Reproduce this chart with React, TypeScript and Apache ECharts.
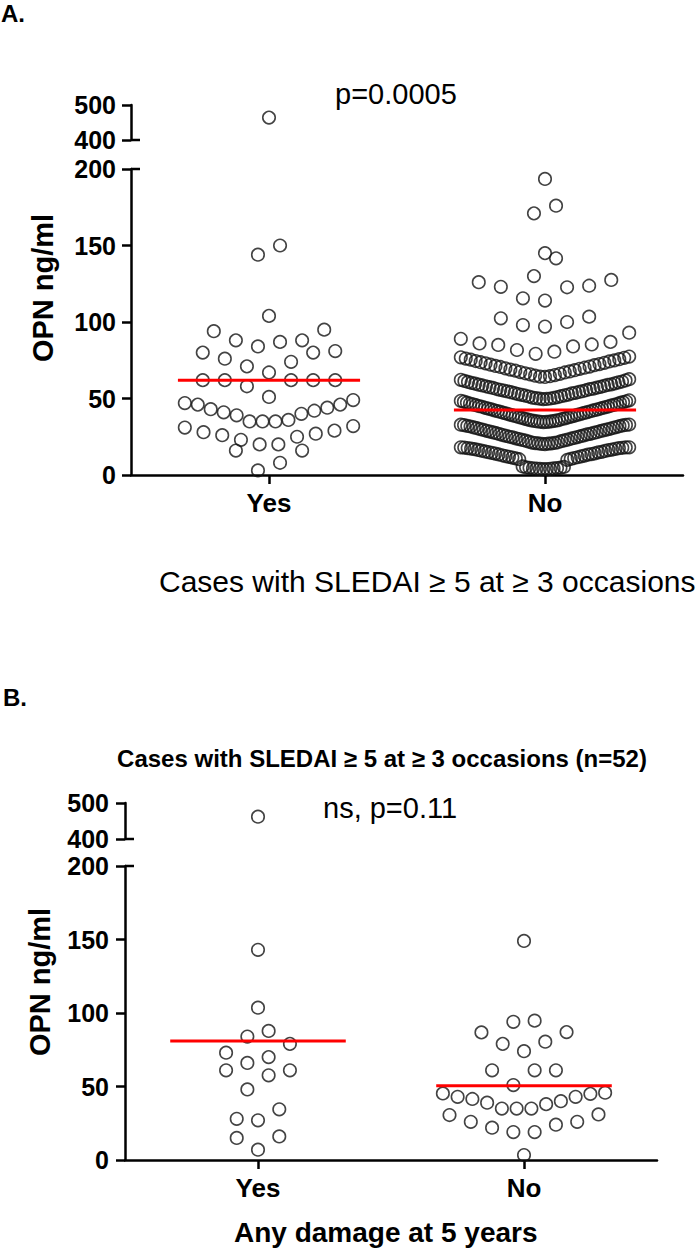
import React, { useEffect, useRef } from "react";
import * as echarts from "echarts";

// ---------- DATA ----------
const categories = ["Yes", "No"];

// Panel A: OPN (ng/ml), cases with SLEDAI >= 5 at >= 3 occasions
const opnA_yes = [
  464, 150, 144, 104, 95, 94, 88, 87, 84, 88, 81, 80, 80, 74, 71, 76, 67,
  62, 62, 62, 62, 62, 58, 51, 47, 46, 44, 41, 39, 36, 35, 35, 35, 40, 42,
  43, 46, 49, 32, 29, 27, 25, 20, 20, 23, 26, 28, 31, 16, 16, 3, 8,
];

const opnA_no = [
  // lowest band
  3.8, 3.9, 4.0, 4.0, 4.1, 4.3, 4.4, 4.5, 4.7, 4.8, 5.0, 5.3, 5.6,
  9.9, 10.3, 10.5, 10.8, 11.1, 11.4, 11.6, 11.9, 12.2, 12.4, 12.7, 12.9,
  13.3, 13.4, 13.7, 14.0, 14.2, 14.4, 14.8, 15.0, 15.1, 15.4, 15.7, 15.9,
  16.3, 16.4, 16.6, 16.9, 17.1, 17.2, 17.5, 17.6, 17.8, 17.9, 18.0, 18.1, 18.1,
  // 20-33
  20.2, 20.3, 20.5, 20.6, 20.7, 20.9, 21.0, 21.2, 21.4, 21.8, 22.1, 22.4,
  22.6, 22.9, 23.1, 23.5, 23.7, 24.0, 24.2, 24.6, 24.8, 25.0, 25.4, 25.6,
  25.9, 26.1, 26.5, 26.7, 26.9, 27.3, 27.5, 27.8, 28.0, 28.4, 28.6, 28.9,
  29.1, 29.5, 29.7, 30.0, 30.2, 30.6, 30.8, 31.1, 31.3, 31.7, 31.9, 32.1,
  32.4, 32.6, 32.7, 32.9, 33.0,
  // 35-49
  34.6, 34.7, 34.8, 34.9, 35.0, 35.2, 35.3, 35.5, 35.7, 35.9, 36.2, 36.6,
  36.7, 37.0, 37.4, 37.6, 37.8, 38.2, 38.4, 38.7, 38.9, 39.3, 39.5, 39.8,
  40.1, 40.4, 40.6, 40.9, 41.2, 41.5, 41.7, 42.0, 42.3, 42.5, 42.9, 43.1,
  43.4, 43.7, 43.9, 44.2, 44.6, 44.7, 45.0, 45.4, 45.6, 45.8, 46.2, 46.4,
  46.7, 47.1, 47.3, 47.6, 47.9, 48.2, 48.5, 48.8,
  // 50-62
  49.6, 49.7, 49.9, 50.0, 50.2, 50.4, 50.6, 50.9, 51.3, 51.5, 51.8, 52.1,
  52.4, 52.6, 52.9, 53.3, 53.5, 53.7, 54.1, 54.3, 54.6, 54.8, 55.2, 55.4,
  55.7, 56.1, 56.2, 56.5, 56.9, 57.1, 57.4, 57.6, 58.0, 58.2, 58.5, 58.9,
  59.0, 59.3, 59.7, 59.9, 60.2, 60.6, 60.8, 61.1, 61.5, 61.8, 62.2, 62.6,
  // 64-77
  64.1, 64.3, 64.6, 64.9, 65.3, 65.8, 66.1, 66.5, 67.0, 67.3, 67.7, 68.2,
  68.5, 68.9, 69.4, 69.7, 70.1, 70.6, 70.9, 71.3, 71.8, 72.1, 72.5, 73.0,
  73.3, 73.7, 74.2, 74.5, 74.9, 75.4, 75.7, 76.1, 76.6, 76.9, 77.4,
  // sparse upper values
  79.2, 80.6, 81.7, 84, 85, 85.3, 86, 87, 89, 93,
  97, 98, 100, 102.4, 103.5,
  114, 115.5, 122.7, 123, 123.7, 126, 127.5,
  130, 141.6, 145, 171, 176, 193.5,
];

// Panel B: cases with SLEDAI >= 5 at >= 3 occasions (n=52), any damage at 5 years
const opnB_yes = [
  462, 143, 103.6, 87.8, 84, 79, 70, 73, 66, 61, 61, 57.6, 48, 34.5, 28, 27,
  16, 15, 7,
];
const opnB_no = [
  149, 94.8, 94, 87, 86.8, 80.5, 79, 74, 61, 61, 61, 51, 45.3, 43, 41.5, 39,
  35, 35, 35, 38, 40, 43, 45, 45.8, 31, 26, 24, 19, 19, 22, 26, 30.6, 3.4,
];

const mediansA = [62, 42.5];
const mediansB = [81, 50.5];

const lowerAxis = { min: 0, max: 200, interval: 50 };
const upperAxis = { min: 400, max: 500, interval: 100 };

const pTextA = "p=0.0005";
const pTextB = "ns, p=0.11";
const xTitleA = "Cases with SLEDAI \u2265 5 at \u2265 3 occasions";
const titleB = "Cases with SLEDAI \u2265 5 at \u2265 3 occasions (n=52)";
const xTitleB = "Any damage at 5 years";
const yTitle = "OPN ng/ml";

// ---------- LAYOUT ----------
const FONT = "'Liberation Sans', Arial, Helvetica, sans-serif";
const LA = { left: 131, width: 552, lowTop: 169, lowH: 306, upTop: 105, upH: 35 };
const LB = { left: 125, width: 532, lowTop: 866, lowH: 294, upTop: 803, upH: 36 };
const X_MAX = 4; // categories at 1 and 3
const ROW_PX = 22;
const STEP = 0.16;
const MAX_SPAN = 1.22;
const MED_HALF = 0.66;

// GraphPad-like binned column scatter: rows of ROW_PX height, lowest values in
// the middle, alternating outward.
function swarm(values: number[], center: number, rowH: number): number[][] {
  const s = [...values].sort((a, b) => a - b);
  const out: number[][] = [];
  let i = 0;
  while (i < s.length) {
    const start = s[i];
    const row: number[] = [];
    while (i < s.length && s[i] < start + rowH) {
      row.push(s[i]);
      i++;
    }
    const n = row.length;
    const st = n > 1 ? Math.min(STEP, MAX_SPAN / (n - 1)) : 0;
    row.forEach((v, k) => {
      let slot: number;
      if (n % 2 === 1) {
        slot = k === 0 ? 0 : k % 2 === 1 ? -Math.ceil(k / 2) : Math.ceil(k / 2);
      } else {
        const m = Math.floor(k / 2) + 0.5;
        slot = k % 2 === 0 ? -m : m;
      }
      out.push([center + slot * st, v]);
    });
  }
  return out;
}

function buildPanel(
  L: typeof LA,
  groups: number[][],
  medians: number[],
  gi0: number,
  xi0: number,
  yi0: number,
  labelMarginY: number
) {
  const rowH = (ROW_PX * (lowerAxis.max - lowerAxis.min)) / L.lowH;
  const axisLineStyle = { color: "#000", width: 2.5 };
  const tickLabel = {
    color: "#000",
    fontFamily: FONT,
    fontWeight: "bold" as const,
    fontSize: 25,
  };
  const grids = [
    { left: L.left, top: L.lowTop, width: L.width, height: L.lowH, outerBoundsMode: "none" },
    { left: L.left, top: L.upTop, width: L.width, height: L.upH, outerBoundsMode: "none" },
  ];
  const xAxes = [
    {
      gridIndex: gi0,
      type: "category",
      data: categories,
      boundaryGap: true,
      axisLine: { show: true, onZero: false, lineStyle: axisLineStyle },
      axisTick: { show: true, alignWithLabel: true, length: 9, lineStyle: { color: "#000", width: 2.5 } },
      axisLabel: { ...tickLabel, fontSize: 26, margin: 15 },
      splitLine: { show: false },
    },
    { gridIndex: gi0, type: "value", min: 0, max: X_MAX, show: false },
    { gridIndex: gi0 + 1, type: "value", min: 0, max: X_MAX, show: false },
  ];
  const yAxes = [
    {
      gridIndex: gi0,
      type: "value",
      ...lowerAxis,
      axisLine: { show: true, onZero: false, lineStyle: axisLineStyle },
      axisTick: { show: true, length: 9, lineStyle: { color: "#000", width: 2.5 } },
      axisLabel: { ...tickLabel, margin: labelMarginY },
      splitLine: { show: false },
    },
    {
      gridIndex: gi0 + 1,
      type: "value",
      ...upperAxis,
      axisLine: { show: true, onZero: false, lineStyle: axisLineStyle },
      axisTick: { show: true, length: 9, lineStyle: { color: "#000", width: 2.5 } },
      axisLabel: { ...tickLabel, margin: labelMarginY },
      splitLine: { show: false },
    },
  ];
  const series: any[] = [];
  groups.forEach((vals, g) => {
    const c = 1 + 2 * g;
    const pts = swarm(vals, c, rowH);
    const sym = {
      type: "scatter",
      symbol: "circle",
      symbolSize: 12.5,
      itemStyle: { color: "rgba(255,255,255,0)", borderColor: "#141414", borderWidth: 1.6 },
      silent: true,
    };
    series.push({
      ...sym,
      xAxisIndex: xi0 + 1,
      yAxisIndex: yi0,
      data: pts.filter((p) => p[1] <= lowerAxis.max),
    });
    series.push({
      ...sym,
      xAxisIndex: xi0 + 2,
      yAxisIndex: yi0 + 1,
      data: pts.filter((p) => p[1] >= upperAxis.min),
    });
    series.push({
      type: "line",
      xAxisIndex: xi0 + 1,
      yAxisIndex: yi0,
      data: [
        [c - MED_HALF, medians[g]],
        [c + MED_HALF, medians[g]],
      ],
      symbol: "none",
      lineStyle: { color: "#ff0000", width: 3 },
      z: 5,
      silent: true,
    });
  });
  // axis break caps
  const cap = (y: number) => ({
    type: "line",
    shape: { x1: L.left, y1: y, x2: L.left + 9, y2: y },
    style: { stroke: "#000", lineWidth: 2.5 },
  });
  const graphics = [cap(L.lowTop), cap(L.upTop + L.upH)];
  return { grids, xAxes, yAxes, series, graphics };
}

function txt(text: string, x: number, y: number, size: number, bold: boolean, align = "left", rot = 0) {
  return {
    type: "text",
    x,
    y,
    rotation: rot,
    style: {
      text,
      fill: "#000",
      font: `${bold ? "bold " : ""}${size}px ${FONT}`,
      textAlign: align,
      textVerticalAlign: "middle",
      align,
      verticalAlign: "middle",
    },
  };
}

export default function App() {
  const ref = useRef<HTMLDivElement>(null);
  useEffect(() => {
    if (!ref.current) return;
    const chart = echarts.init(ref.current, undefined, { renderer: "svg" });
    const A = buildPanel(LA, [opnA_yes, opnA_no], mediansA, 0, 0, 0, 15);
    const B = buildPanel(LB, [opnB_yes, opnB_no], mediansB, 2, 3, 2, 16);
    chart.setOption({
      animation: false,
      backgroundColor: "#fff",
      grid: [...A.grids, ...B.grids],
      xAxis: [...A.xAxes, ...B.xAxes],
      yAxis: [...A.yAxes, ...B.yAxes],
      series: [...A.series, ...B.series],
      graphic: [
        ...A.graphics,
        ...B.graphics,
        txt("A.", 1, 13, 24, true),
        txt("B.", 3, 697, 24, true),
        txt(pTextA, 335, 94, 29, false),
        txt(pTextB, 323, 808, 29, false),
        txt(xTitleA, 159, 581, 30, false),
        txt(titleB, 382, 758, 24, true, "center"),
        txt(xTitleB, 234, 1232, 28, true),
        txt(yTitle, 43, 288, 29, true, "center", Math.PI / 2),
        txt(yTitle, 40, 982, 29, true, "center", Math.PI / 2),
      ],
    });
    return () => chart.dispose();
  }, []);
  return (
    <div
      ref={ref}
      style={{ position: "absolute", left: 0, top: 0, width: 699, height: 1251, background: "#fff" }}
    />
  );
}
